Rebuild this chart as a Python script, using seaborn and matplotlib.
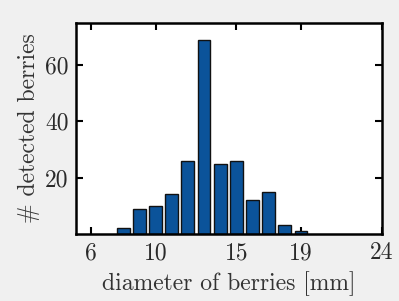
import numpy as np
import pandas as pd
import seaborn as sns
import matplotlib as mpl
import matplotlib.pyplot as plt

diameter = [8, 9, 10, 11, 12, 13, 14, 15, 16, 17, 18, 19]
n_berries = [2, 9, 10, 14, 26, 69, 25, 26, 12, 15, 3, 1]
x_ticks = [6, 10, 15, 19, 24]
y_ticks = [20, 40, 60]

sns.set_theme(style="ticks")
mpl.rc('font', family='cmr10', size=17)
mpl.rc('mathtext', fontset='cm')
plt.rcParams['axes.formatter.use_mathtext'] = True

df = pd.DataFrame({'diameter': diameter, 'count': n_berries})

fig = plt.figure(figsize=(3.99, 3.01), dpi=100, facecolor='#f0f0f0')
ax = fig.add_axes([0.19, 0.223, 0.767, 0.701])
ax.set_facecolor('white')

sns.barplot(data=df, x='diameter', y='count', native_scale=True, width=0.8,
            color='#0b539a', edgecolor='#111111', linewidth=1.0, saturation=1,
            ax=ax)

ax.set_xlim(5.07, 24)
ax.set_ylim(0, 75)
ax.set_xticks(x_ticks)
ax.set_yticks(y_ticks)
ax.set_xticklabels([str(t) for t in x_ticks])
ax.set_yticklabels([str(t) for t in y_ticks])
ax.tick_params(direction='in', length=5, width=1.5, top=True, right=True,
               color='black', labelcolor='#2a2a2a', labelsize=17, pad=5)
ax.tick_params(axis='x', pad=6)
for s in ax.spines.values():
    s.set_linewidth(1.8)
    s.set_color('black')

ax.set_xlabel('diameter of berries [mm]', fontsize=17, color='#333333', labelpad=5)
ax.set_ylabel('# detected berries', fontsize=17, color='#333333', labelpad=4)

fig.savefig('out.png', dpi=100, facecolor=fig.get_facecolor())
